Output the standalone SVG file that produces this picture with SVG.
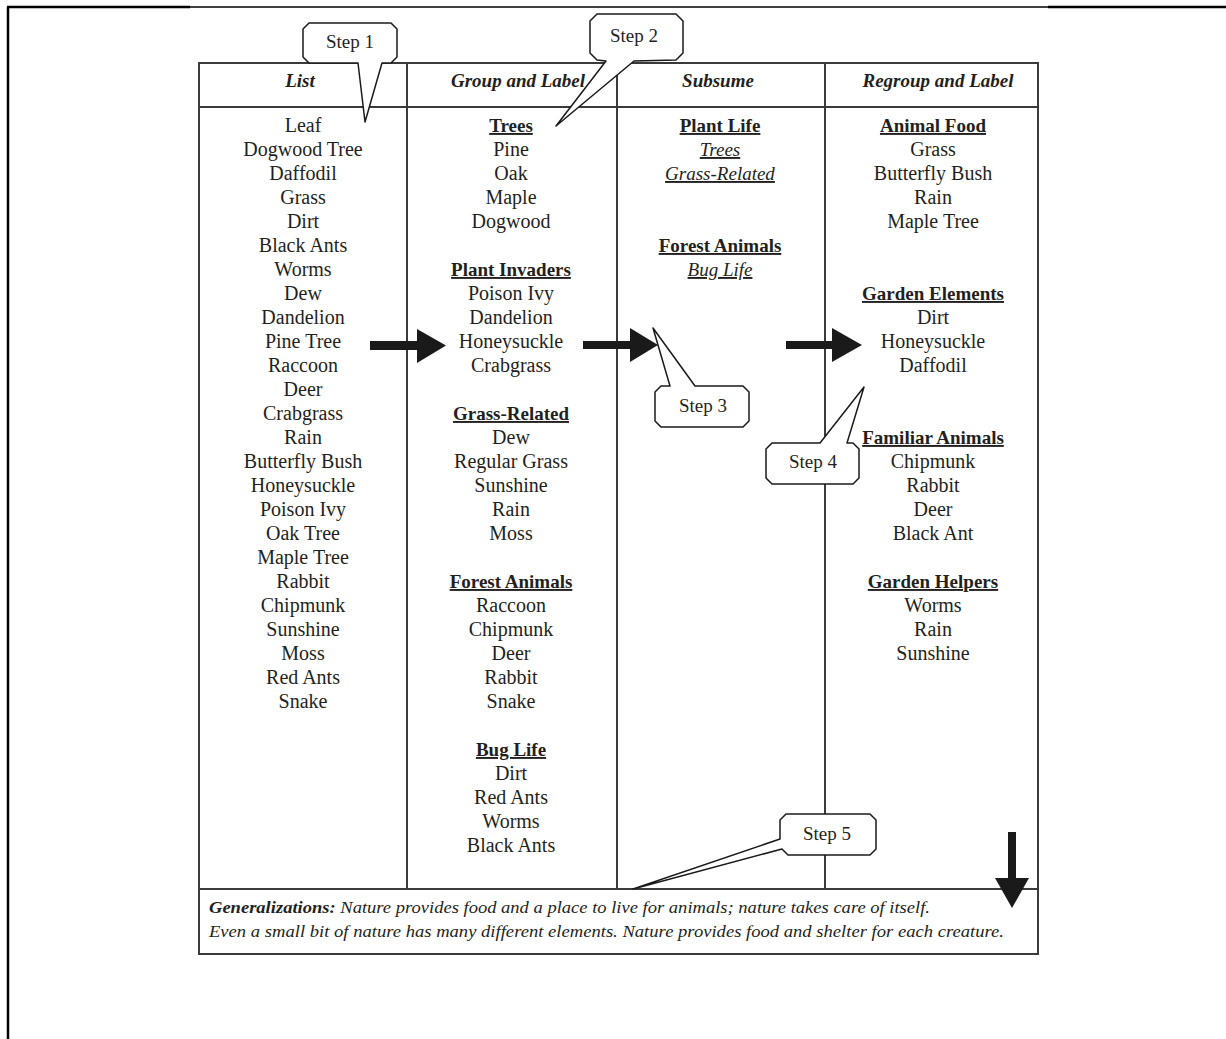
<svg xmlns="http://www.w3.org/2000/svg" width="1226" height="1039" viewBox="0 0 1226 1039">
<style>
  text { font-family: "Liberation Serif", "Times New Roman", serif; fill: #231f20; }
  .it { font-size: 20px; text-anchor: middle; }
  .hd { font-size: 19px; font-weight: bold; text-decoration: underline; text-anchor: middle; }
  .sub { font-size: 19px; font-style: italic; text-decoration: underline; text-anchor: middle; }
  .th { font-size: 19px; font-weight: bold; font-style: italic; text-anchor: middle; }
  .gen { font-size: 17px; font-style: italic; }
  .step { font-size: 19px; text-anchor: middle; }
  .tbl { stroke: #3a3a3a; stroke-width: 2; fill: none; }
  .callout { fill: #fff; stroke: #1a1a1a; stroke-width: 1.5; stroke-linejoin: round; }
  .arrow { fill: #1a1a1a; }
  .frame { stroke: #000; fill: none; }
</style>

<g id="frame">
  <line class="frame" x1="8" y1="7" x2="8" y2="1039" stroke-width="2.5"/>
  <line class="frame" x1="7" y1="7" x2="190" y2="7" stroke-width="2.5"/>
  <line class="frame" x1="190" y1="7" x2="1048" y2="7" stroke-width="1.5"/>
  <line class="frame" x1="1048" y1="7" x2="1226" y2="7" stroke-width="2.5"/>
</g>

<g id="table">
  <rect class="tbl" x="199" y="63" width="839" height="891"/>
  <line class="tbl" x1="199" y1="107" x2="1038" y2="107"/>
  <line class="tbl" x1="199" y1="889" x2="1038" y2="889"/>
  <line class="tbl" x1="407" y1="63" x2="407" y2="889"/>
  <line class="tbl" x1="617" y1="63" x2="617" y2="889"/>
  <line class="tbl" x1="825" y1="63" x2="825" y2="889"/>
  <text class="th" x="300" y="87">List</text>
  <text class="th" x="518" y="87">Group and Label</text>
  <text class="th" x="718" y="87">Subsume</text>
  <text class="th" x="938" y="87">Regroup and Label</text>
</g>

<g id="col-list">
  <text class="it" x="303" y="132">Leaf</text>
  <text class="it" x="303" y="156">Dogwood Tree</text>
  <text class="it" x="303" y="180">Daffodil</text>
  <text class="it" x="303" y="204">Grass</text>
  <text class="it" x="303" y="228">Dirt</text>
  <text class="it" x="303" y="252">Black Ants</text>
  <text class="it" x="303" y="276">Worms</text>
  <text class="it" x="303" y="300">Dew</text>
  <text class="it" x="303" y="324">Dandelion</text>
  <text class="it" x="303" y="348">Pine Tree</text>
  <text class="it" x="303" y="372">Raccoon</text>
  <text class="it" x="303" y="396">Deer</text>
  <text class="it" x="303" y="420">Crabgrass</text>
  <text class="it" x="303" y="444">Rain</text>
  <text class="it" x="303" y="468">Butterfly Bush</text>
  <text class="it" x="303" y="492">Honeysuckle</text>
  <text class="it" x="303" y="516">Poison Ivy</text>
  <text class="it" x="303" y="540">Oak Tree</text>
  <text class="it" x="303" y="564">Maple Tree</text>
  <text class="it" x="303" y="588">Rabbit</text>
  <text class="it" x="303" y="612">Chipmunk</text>
  <text class="it" x="303" y="636">Sunshine</text>
  <text class="it" x="303" y="660">Moss</text>
  <text class="it" x="303" y="684">Red Ants</text>
  <text class="it" x="303" y="708">Snake</text>
</g>

<g id="col-group">
  <text class="hd" x="511" y="132">Trees</text>
  <text class="it" x="511" y="156">Pine</text>
  <text class="it" x="511" y="180">Oak</text>
  <text class="it" x="511" y="204">Maple</text>
  <text class="it" x="511" y="228">Dogwood</text>
  <text class="hd" x="511" y="276">Plant Invaders</text>
  <text class="it" x="511" y="300">Poison Ivy</text>
  <text class="it" x="511" y="324">Dandelion</text>
  <text class="it" x="511" y="348">Honeysuckle</text>
  <text class="it" x="511" y="372">Crabgrass</text>
  <text class="hd" x="511" y="420">Grass-Related</text>
  <text class="it" x="511" y="444">Dew</text>
  <text class="it" x="511" y="468">Regular Grass</text>
  <text class="it" x="511" y="492">Sunshine</text>
  <text class="it" x="511" y="516">Rain</text>
  <text class="it" x="511" y="540">Moss</text>
  <text class="hd" x="511" y="588">Forest Animals</text>
  <text class="it" x="511" y="612">Raccoon</text>
  <text class="it" x="511" y="636">Chipmunk</text>
  <text class="it" x="511" y="660">Deer</text>
  <text class="it" x="511" y="684">Rabbit</text>
  <text class="it" x="511" y="708">Snake</text>
  <text class="hd" x="511" y="756">Bug Life</text>
  <text class="it" x="511" y="780">Dirt</text>
  <text class="it" x="511" y="804">Red Ants</text>
  <text class="it" x="511" y="828">Worms</text>
  <text class="it" x="511" y="852">Black Ants</text>
</g>

<g id="col-subsume">
  <text class="hd" x="720" y="132">Plant Life</text>
  <text class="sub" x="720" y="156">Trees</text>
  <text class="sub" x="720" y="180">Grass-Related</text>
  <text class="hd" x="720" y="252">Forest Animals</text>
  <text class="sub" x="720" y="276">Bug Life</text>
</g>

<g id="col-regroup">
  <text class="hd" x="933" y="132">Animal Food</text>
  <text class="it" x="933" y="156">Grass</text>
  <text class="it" x="933" y="180">Butterfly Bush</text>
  <text class="it" x="933" y="204">Rain</text>
  <text class="it" x="933" y="228">Maple Tree</text>
  <text class="hd" x="933" y="300">Garden Elements</text>
  <text class="it" x="933" y="324">Dirt</text>
  <text class="it" x="933" y="348">Honeysuckle</text>
  <text class="it" x="933" y="372">Daffodil</text>
  <text class="hd" x="933" y="444">Familiar Animals</text>
  <text class="it" x="933" y="468">Chipmunk</text>
  <text class="it" x="933" y="492">Rabbit</text>
  <text class="it" x="933" y="516">Deer</text>
  <text class="it" x="933" y="540">Black Ant</text>
  <text class="hd" x="933" y="588">Garden Helpers</text>
  <text class="it" x="933" y="612">Worms</text>
  <text class="it" x="933" y="636">Rain</text>
  <text class="it" x="933" y="660">Sunshine</text>
</g>

<g id="generalizations">
  <text class="gen" x="209" y="913" textLength="721" lengthAdjust="spacingAndGlyphs"><tspan font-weight="bold">Generalizations:</tspan>  Nature provides food and a place to live for animals; nature takes care of itself.</text>
  <text class="gen" x="209" y="937" textLength="795" lengthAdjust="spacingAndGlyphs">Even a small bit of nature has many different elements.  Nature provides food and shelter for each creature.</text>
</g>

<g id="connectors">
  <polygon class="arrow" points="370,341 417,341 417,329 446,345.5 417,363 417,350 370,350"/>
  <polygon class="arrow" points="583,341 630,341 630,328 658,345 630,362 630,349 583,349"/>
  <polygon class="arrow" points="786,341 832,341 832,328 862,345 832,362 832,349 786,349"/>
  <polygon class="arrow" points="1008,832 1016,832 1016,878 1029,878 1012,908 995,878 1008,878"/>
</g>

<g id="step1">
  <path class="callout" d="M309,23 L391,23 L397,29 L397,57 L391,63 L382,63 L365,122 L358,63 L309,63 L303,57 L303,29 Z"/>
  <text class="step" x="350" y="48">Step 1</text>
</g>
<g id="step2">
  <path class="callout" d="M597,14 L676,14 L683,21 L683,53 L676,60 L634,61 L556,126 L606,61 L597,60 L590,53 L590,21 Z"/>
  <text class="step" x="634" y="42">Step 2</text>
</g>
<g id="step3">
  <path class="callout" d="M653,328 L695,386 L743,386 L749,392 L749,421 L743,427 L661,427 L655,421 L655,392 L661,386 L670,386 Z"/>
  <text class="step" x="703" y="412">Step 3</text>
</g>
<g id="step4">
  <path class="callout" d="M864,387 L847,443 L853,443 L859,449 L859,478 L853,484 L772,484 L766,478 L766,449 L772,443 L820,443 Z"/>
  <text class="step" x="813" y="468">Step 4</text>
</g>
<g id="step5">
  <path class="callout" d="M786,814 L870,814 L876,820 L876,849 L870,855 L788,855 L782,849 L633,889 L780,839 L780,820 Z"/>
  <text class="step" x="827" y="840">Step 5</text>
</g>
</svg>
